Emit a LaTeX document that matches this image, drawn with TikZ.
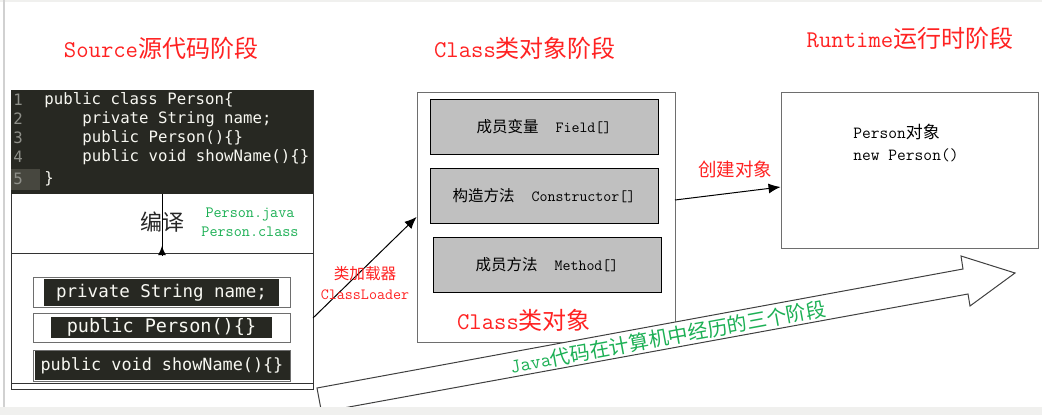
\documentclass[tikz,border=0pt]{standalone}
\usepackage{fontspec}
\usepackage{tikz}
\usetikzlibrary{calc, positioning, arrows.meta}
\newfontfamily\cjk{Noto Sans CJK SC}
\newfontfamily\codefont{DejaVu Sans Mono}
\definecolor{codeBg}{HTML}{272822}
\definecolor{codeFg}{HTML}{F8F8F2}
\definecolor{lineNo}{HTML}{8F908A}
\definecolor{gutterHi}{HTML}{47473F}
\definecolor{memberGray}{HTML}{C0C0C0}
\definecolor{frameGray}{HTML}{6E6E6E}
\definecolor{noteRed}{HTML}{FF2222}
\definecolor{noteGreen}{HTML}{1DB055}
\definecolor{pageGray}{HTML}{F0F0EE}
\newcommand{\zh}[1]{{\cjk #1}}
\newcommand{\fsz}[1]{\fontsize{#1}{#1}\selectfont}

\begin{document}
\begin{tikzpicture}[x=1pt, y=-1pt, line width=0.9pt,
  stage/.style={text=noteRed, font={\ttfamily\fsz{24}}, inner sep=0pt},
  redNote/.style={text=noteRed, font={\ttfamily\fsz{15.6}}, inner sep=0pt, align=center},
  codeLine/.style={text=codeFg, font={\codefont\fsz{15.7}}, inner sep=0pt, anchor=west},
  lnum/.style={text=lineNo, font={\codefont\fsz{15.7}}, inner sep=0pt},
  memberOut/.style={draw=frameGray, fill=white, inner sep=0pt, minimum width=257},
  memberIn/.style={fill=codeBg, text=codeFg, inner sep=0pt, font={\codefont\fsz{17.5}}},
  field/.style={draw=black, fill=memberGray, inner sep=0pt, minimum width=228,
    minimum height=55, font={\ttfamily\fsz{15.5}}},
  frame/.style={draw=frameGray, inner sep=0pt},
  link/.style={-{Latex[length=12pt, width=10pt]}, line width=1pt}]
  \useasboundingbox (0,0) rectangle (1042,415);
  \fill[white] (0,0) rectangle (1042,415);

  % stage titles
  \node[stage] (tSrc) at (161,48) {Source\zh{源代码阶段}};
  \node[stage] (tCls) at (525,48) {Class\zh{类对象阶段}};
  \node[stage] (tRun) at (910,38) {Runtime\zh{运行时阶段}};

  % source stage: java file and class file
  \node[draw=black!80, inner sep=0pt, minimum width=302, minimum height=299]
    (srcbox) at (162,239.5) {};
  \fill[codeBg] (11,90) rectangle (313,194);
  \fill[gutterHi] (11,169) rectangle (40,190);
  \foreach \n/\yy in {1/100, 2/119, 3/138, 4/157, 5/179}
    \node[lnum] (n\n) at (18,\yy) {\n};
  \node[codeLine] (l1) at (44,100) {public class Person\{};
  \node[codeLine] (l2) at (82,119) {private String name;};
  \node[codeLine] (l3) at (82,138) {public Person()\{\}};
  \node[codeLine] (l4) at (82,157) {public void showName()\{\}};
  \node[codeLine] (l5) at (44,179) {\}};
  \draw[black!80] (11,253) -- (313,253);
  \draw[black!80] (11,383) -- (313,383);

  \coordinate (cmpTop) at (162,194);
  \coordinate (cmpBot) at (162,256);
  \coordinate (cmpTip) at (162,246);
  \draw[line width=1pt] (cmpTop) -- (cmpBot);
  \draw[-{Latex[length=9pt, width=8pt]}, line width=1pt] (cmpBot) -- (cmpTip);
  \node[font={\cjk\fsz{22}}, text=black!85, inner sep=0pt] (cmp) at (162,222) {编译};
  \node[text=noteGreen, font={\ttfamily\fsz{15.7}}, inner sep=0pt, align=center]
    (files) at (250,222.5) {Person.java\\[3pt]Person.class};

  \node[memberOut, minimum height=30] (m1) at (161.5,292) {};
  \node[memberIn, minimum width=235, minimum height=27] (c1) at (161.5,292.5) {private String name;};
  \node[memberOut, minimum height=29] (m2) at (161.5,327.5) {};
  \node[memberIn, minimum width=221, minimum height=21, font={\codefont\fsz{18.5}}]
    (c2) at (161.5,327.5) {public Person()\{\}};
  \node[memberOut, minimum height=31] (m3) at (161.5,365.5) {};
  \node[memberIn, minimum width=255, minimum height=29, font={\codefont\fsz{16.8}}]
    (c3) at (162,365.5) {public void showName()\{\}};

  % class stage
  \node[frame, minimum width=258, minimum height=250] (clsbox) at (546,217) {};
  \node[field] (fld) at (544,127) {\zh{成员变量}\hspace{17pt}Field[]};
  \node[field] (ctor) at (544,195.5) {\zh{构造方法}\hspace{17pt}Constructor[]};
  \node[field] (mth) at (547,264.5) {\zh{成员方法}\hspace{17pt}Method[]};
  \node[text=noteRed, font={\ttfamily\fsz{24}}, inner sep=0pt] (clsLbl) at (524,320) {Class\zh{类对象}};

  \coordinate (ldrFrom) at (313,318);
  \draw[link] (ldrFrom) -- (clsbox.west);
  \node[redNote] (ldrLbl) at (365,283) {\zh{类加载器}\\[4pt]ClassLoader};

  % runtime stage
  \node[frame, minimum width=257, minimum height=156] (rtbox) at (909.5,170) {};
  \node[font={\ttfamily\fsz{17}}, inner sep=0pt, anchor=west] (obj1) at (853,132) {Person\zh{对象}};
  \node[font={\ttfamily\fsz{17}}, inner sep=0pt, anchor=west] (obj2) at (853,155) {new Person()};

  \coordinate (mkFrom) at (675,200);
  \draw[link] (mkFrom) -- ($(rtbox.west)+(0,17)$);
  \node[text=noteRed, font={\cjk\fsz{18.5}}, inner sep=0pt] (mkLbl) at (735,169) {创建对象};

  % big hollow arrow
  \draw[draw=black!75, fill=white, line width=1pt]
    (317,388) -- (963,269) -- (961,256) -- (1015,273) -- (970,306)
    -- (968,294) -- (321.5,412) -- cycle;
  \node[rotate=10.4, text=noteGreen, font={\ttfamily\fsz{20}}, inner sep=0pt]
    (stages) at (668,337) {Java\zh{代码在计算机中经历的三个阶段}};

  % page edges
  \fill[pageGray] (0,407) rectangle (1042,415);
  \fill[pageGray] (0,0) rectangle (1042,1.5);
  \fill[black!18] (3,0) rectangle (5,407);
\end{tikzpicture}
\end{document}
